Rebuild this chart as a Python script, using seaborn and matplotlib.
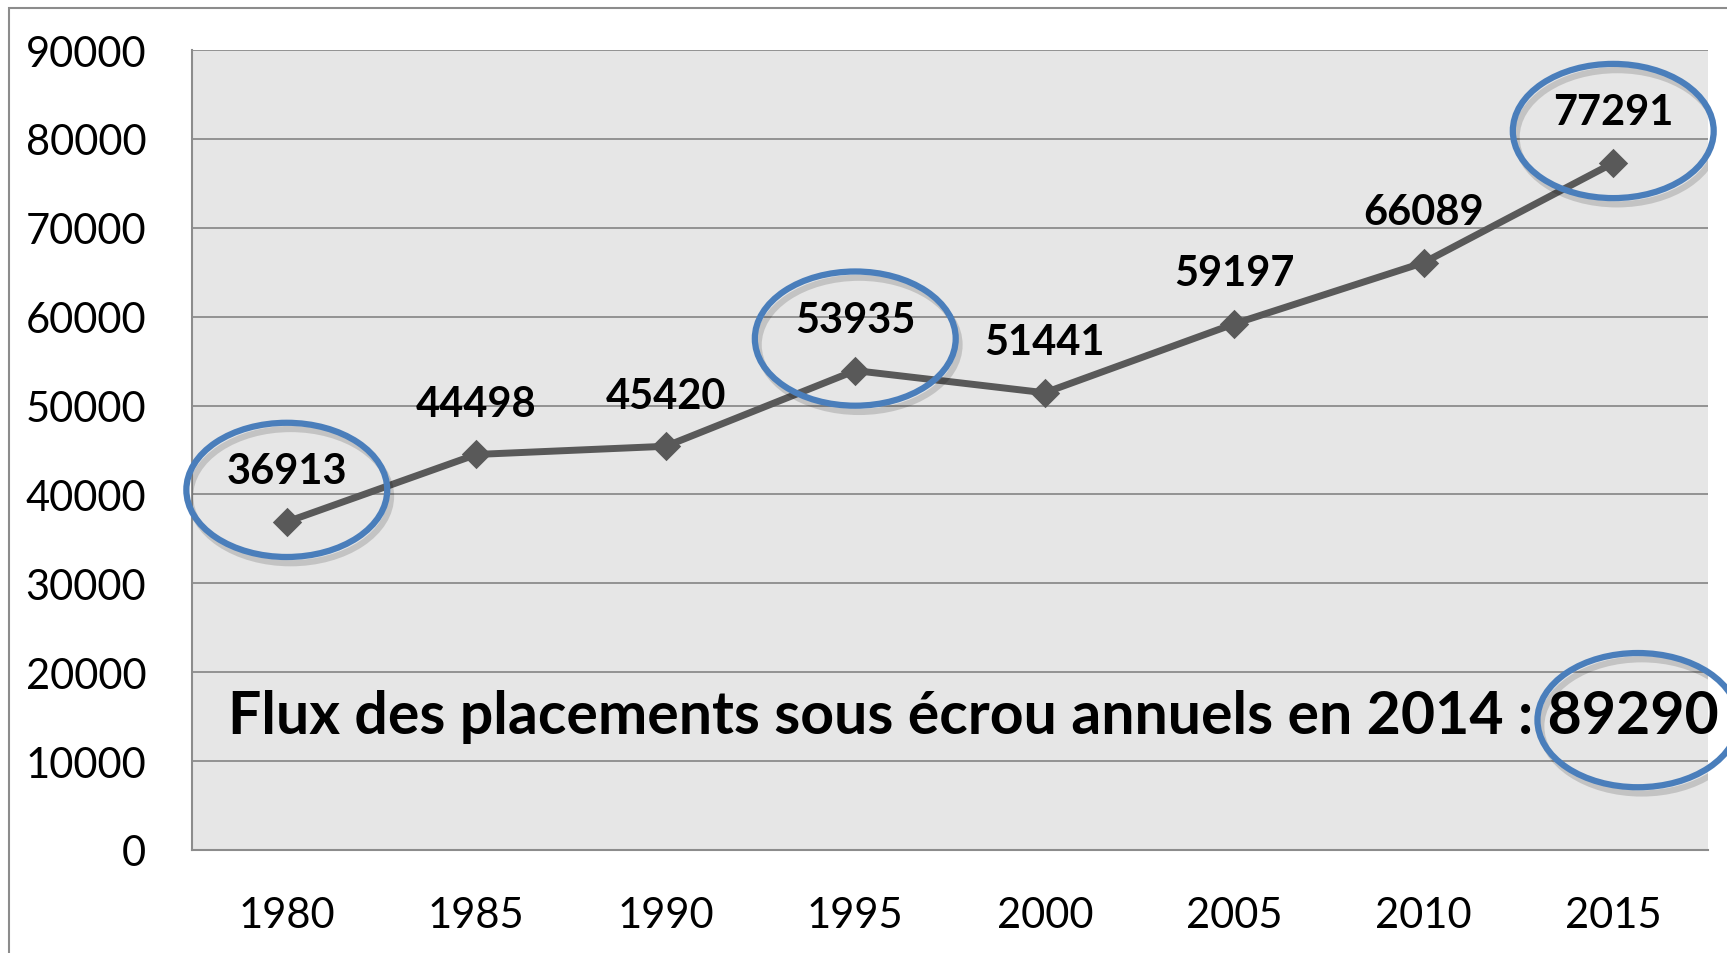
import matplotlib
matplotlib.use("Agg")
import matplotlib.pyplot as plt
import seaborn as sns
import pandas as pd
from matplotlib.patches import Ellipse, Rectangle

# ── Données ──
annees = ['1980', '1985', '1990', '1995', '2000', '2005', '2010', '2015']
effectifs = [36913, 44498, 45420, 53935, 51441, 59197, 66089, 77291]
entoures = ['1980', '1995', '2015']
flux_2014 = 89290
texte_flux = "Flux des placements sous écrou annuels en 2014 : "

df = pd.DataFrame({'annee': annees, 'effectif': effectifs})

sns.set_style("white")
plt.rcParams['font.family'] = ['Lato', 'DejaVu Sans']

fig = plt.figure(figsize=(17.27, 9.54), dpi=100)
ax = fig.add_axes([0.1112, 0.108, 0.8778, 0.8385])
ax.set_facecolor('#e6e6e6')

# cadre gris de la figure
fig.patches.append(Rectangle((9 / 1727, -0.1), 1.2, 1.1 - 9 / 954,
                             transform=fig.transFigure, fill=False,
                             edgecolor='#8c8c8c', linewidth=1.5, zorder=0))

ax.yaxis.grid(True, color='#8c8c8c', linewidth=1.3)
ax.set_axisbelow(True)

sns.pointplot(data=df, x='annee', y='effectif', color='#595959', markers='D',
              markersize=11, linewidth=5, errorbar=None, ax=ax, zorder=3)

ax.set_xlim(-0.5, 7.5)
ax.set_ylim(0, 90000)
ax.set_yticks(range(0, 90001, 10000))
ax.set_xlabel(''); ax.set_ylabel('')
ax.tick_params(axis='both', length=0, labelsize=30, colors='black')
ax.tick_params(axis='y', pad=33)
ax.tick_params(axis='x', pad=33)

for s in ['top', 'right']:
    ax.spines[s].set_visible(False)
for s in ['left', 'bottom']:
    ax.spines[s].set_color('#8c8c8c')
    ax.spines[s].set_linewidth(1.5)

# étiquettes de valeurs
for i, v in enumerate(effectifs):
    ax.text(i, v + 5700, f"{v}", ha='center', va='center',
            fontsize=30, fontweight='bold', color='black', zorder=4)

# texte du flux 2014
ax.text(-0.31, 15100, f"{texte_flux}{flux_2014}", ha='left', va='center',
        fontsize=42.5, fontweight='bold', color='black', zorder=4)

# ellipses bleues
bleu = '#4a7ebb'
def entourer(x, y):
    ax.add_patch(Ellipse((x + 0.02, y - 700), 1.06, 15100, fill=False,
                         edgecolor='#000000', alpha=0.15, linewidth=4.5, zorder=4))
    ax.add_patch(Ellipse((x, y), 1.06, 15100, fill=False, edgecolor=bleu,
                         linewidth=4.5, zorder=5, clip_on=False))

for a in entoures:
    i = annees.index(a)
    entourer(i, effectifs[i] + 3600)
entourer(7.13, 14608)

fig.savefig('out.png', dpi=100)
